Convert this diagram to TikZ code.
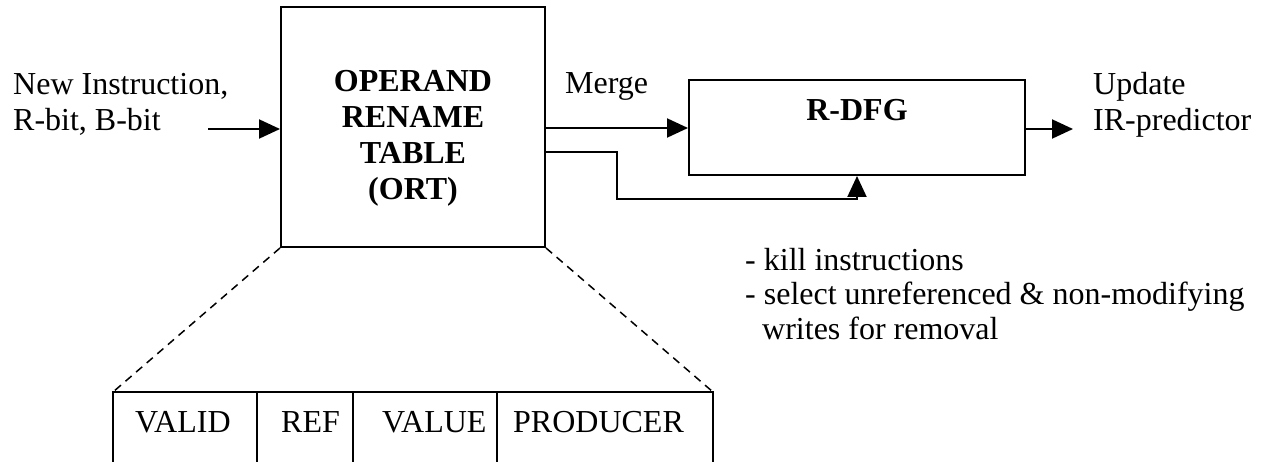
\documentclass[tikz,border=0pt]{standalone}
\usepackage{fontspec}
\setmainfont{Liberation Serif}
\usetikzlibrary{arrows.meta}
\begin{document}
\begin{tikzpicture}[x=1pt,y=-1pt,
  box/.style={draw,line width=2pt,inner sep=0pt},
  lbl/.style={inner sep=0pt,anchor=base west,font=\fontsize{32}{36}\selectfont},
  blbl/.style={inner sep=0pt,anchor=base,font=\fontsize{32}{36}\selectfont\bfseries},
  wire/.style={line width=2pt,-{Triangle[length=21pt,width=19pt]}},
  zoomline/.style={line width=1.5pt,dash pattern=on 8pt off 6pt},
  cell/.style={line width=2pt}]
\useasboundingbox (0,0) rectangle (1266,462);

% main blocks
\node[box,minimum width=264pt,minimum height=240pt] (ort) at (413,127) {};
\node[box,minimum width=336pt,minimum height=95pt] (rdfg) at (857,127.5) {};

% block titles
\node[blbl] (ort1) at (413,92) {OPERAND};
\node[blbl] (ort2) at (413,128) {RENAME};
\node[blbl] (ort3) at (413,164) {TABLE};
\node[blbl] (ort4) at (413,200) {(ORT)};
\node[blbl] (rdfgt) at (857,121) {R-DFG};

% input
\node[lbl] (in1) at (13,95) {New Instruction,};
\node[lbl] (in2) at (13,131) {R-bit, B-bit};
\coordinate (inS) at (208,129);
\draw[wire] (inS) -- (inS -| ort.west);

% merge path
\node[lbl] (merge) at (565,94) {Merge};
\coordinate (mS) at (545,128);
\draw[wire] (mS) -- (mS -| rdfg.west);

% kill / select path
\coordinate (kS) at (545,152);
\coordinate (kA) at (617,199);
\draw[wire] (kS) -| (kA) -| (rdfg.south);
\node[lbl] (k1) at (745,271) {- kill instructions};
\node[lbl] (k2) at (745,305) {- select unreferenced \& non-modifying};
\node[lbl] (k3) at (762,339) {writes for removal};

% output
\coordinate (oS) at (1025,129);
\coordinate (oE) at (1073,129);
\draw[wire] (oS) -- (oE);
\node[lbl] (u1) at (1093,95) {Update};
\node[lbl] (u2) at (1093,131) {IR-predictor};

% table entry
\coordinate (tL) at (113,392);
\coordinate (tR) at (713,392);
\draw[cell] (113,462) -- (tL) -- (tR) -- (713,462);
\draw[cell] (257,392) -- (257,462);
\draw[cell] (353,392) -- (353,462);
\draw[cell] (497,392) -- (497,462);
\node[lbl] (c1) at (135,432) {VALID};
\node[lbl] (c2) at (281,432) {REF};
\node[lbl] (c3) at (382,432) {VALUE};
\node[lbl] (c4) at (513,432) {PRODUCER};

% zoom lines
\draw[zoomline] (ort.south west) -- (tL);
\draw[zoomline] (ort.south east) -- (tR);
\end{tikzpicture}
\end{document}
